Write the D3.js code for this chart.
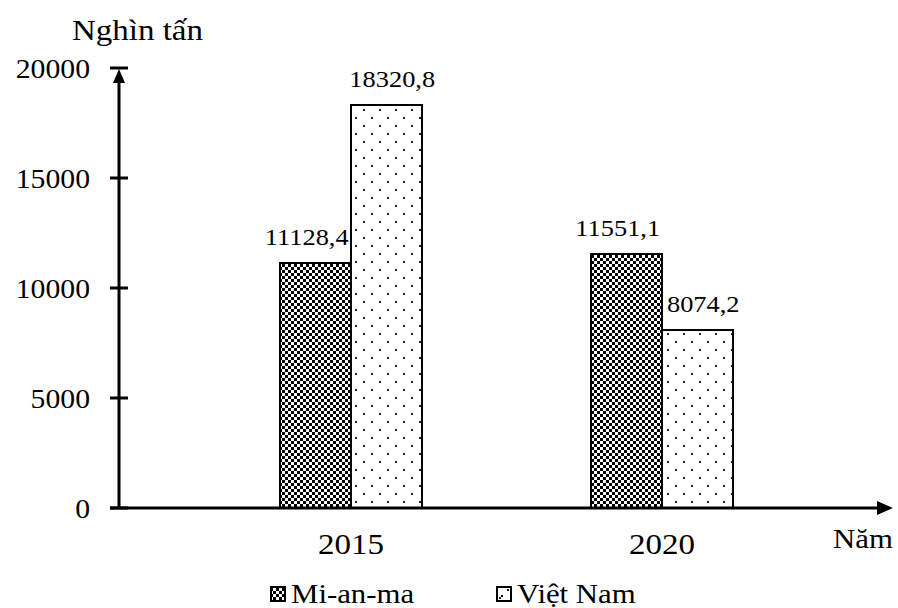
<!DOCTYPE html>
<html>
<head>
<meta charset="utf-8">
<script src="https://cdn.jsdelivr.net/npm/d3@7"></script>
<style>
  html, body { margin: 0; padding: 0; background: #fff; }
</style>
</head>
<body>
<svg id="chart" width="898" height="608"></svg>
<script>
// Sản lượng lúa (nghìn tấn)
const years = ["2015", "2020"];
const seriesNames = ["Mi-an-ma", "Việt Nam"];
const myanmarValues = [11128.4, 11551.1];
const vietnamValues = [18320.8, 8074.2];
const yTicks = [0, 5000, 10000, 15000, 20000];
const yUnit = "Nghìn tấn";
const xUnit = "Năm";

const svg = d3.select("#chart");
const markLayer = svg.append("g");
const textLayer = svg.append("g");

const y = d3.scaleLinear().domain([0, 20000]).range([508, 68]);
const x = d3.scaleBand().domain(years).range([125, 888]).paddingInner(0.5466).paddingOuter(0.5);
const xs = d3.scaleBand().domain(d3.range(seriesNames.length)).range([0, x.bandwidth()]);

const axisX = 119;
const sx = 1.1; // text is set slightly wide

function label(tx, ty, str, size, anchor) {
  return textLayer.append("text")
    .attr("transform", `translate(${tx},${ty}) scale(${sx},1)`)
    .attr("text-anchor", anchor || "start")
    .style("font-family", '"Liberation Serif"')
    .attr("font-size", size)
    .attr("fill", "#000")
    .text(str);
}

// hatch textures painted on a canvas, aligned to page coordinates
function texture(kind, x0, y0, w, h) {
  const c = document.createElement("canvas");
  c.width = Math.max(1, Math.round(w));
  c.height = Math.max(1, Math.round(h));
  const ctx = c.getContext("2d");
  ctx.fillStyle = "#fff";
  ctx.fillRect(0, 0, c.width, c.height);
  if (kind === 0) {
    ctx.fillStyle = "#000";
    const gx0 = Math.floor(x0 / 3) * 3, gy0 = Math.floor(y0 / 3) * 3;
    for (let gy = gy0; gy < y0 + h; gy += 3) {
      for (let gx = gx0; gx < x0 + w; gx += 3) {
        if (((gx / 3) + (gy / 3)) % 2 === 0) ctx.fillRect(gx - x0, gy - y0, 3, 3);
      }
    }
  } else {
    ctx.fillStyle = "#222";
    const gx0 = Math.floor(x0 / 16) * 16, gy0 = Math.floor(y0 / 16) * 16;
    for (let gy = gy0; gy < y0 + h; gy += 16) {
      for (let gx = gx0; gx < x0 + w; gx += 16) {
        ctx.fillRect(gx + 3 - x0, gy + 5 - y0, 2, 2);
        ctx.fillRect(gx + 11 - x0, gy + 13 - y0, 2, 2);
      }
    }
  }
  return c.toDataURL();
}

const data = years.map((yr, i) => ({ year: yr, values: [myanmarValues[i], vietnamValues[i]] }));
const bars = data.flatMap(d => d.values.map((v, i) => ({ year: d.year, series: i, value: v })));

function barBox(b) {
  const bx = Math.round(x(b.year) + xs(b.series));
  const by = Math.round(y(b.value));
  const bw = Math.round(xs.bandwidth());
  const bh = Math.round(y(0)) - by;
  return { bx, by, bw, bh };
}

// bar fills
markLayer.append("g").selectAll("image").data(bars).join("image")
  .attr("x", b => barBox(b).bx)
  .attr("y", b => barBox(b).by)
  .attr("width", b => barBox(b).bw)
  .attr("height", b => barBox(b).bh)
  .attr("preserveAspectRatio", "none")
  .attr("href", b => { const r = barBox(b); return texture(b.series, r.bx, r.by, r.bw, r.bh); });

// bar outlines
markLayer.append("g").selectAll("rect").data(bars).join("rect")
  .attr("x", b => barBox(b).bx)
  .attr("y", b => barBox(b).by)
  .attr("width", b => barBox(b).bw)
  .attr("height", b => barBox(b).bh)
  .attr("fill", "none")
  .attr("stroke", "#000")
  .attr("stroke-width", 2);

// y axis with arrow and tick marks from the scale
markLayer.append("line").attr("x1", axisX).attr("x2", axisX)
  .attr("y1", y(0) + 1).attr("y2", 80).attr("stroke", "#000").attr("stroke-width", 3);
markLayer.append("path")
  .attr("d", `M${axisX},${y(20000) + 1} L${axisX - 6},${y(20000) + 15} L${axisX + 6},${y(20000) + 15} Z`)
  .attr("fill", "#000");
markLayer.append("g").selectAll("line").data(yTicks).join("line")
  .attr("x1", axisX - 9).attr("x2", axisX + 9)
  .attr("y1", d => y(d)).attr("y2", d => y(d))
  .attr("stroke", "#000").attr("stroke-width", 3);

// x axis with arrow
markLayer.append("line").attr("x1", axisX - 9).attr("x2", 880)
  .attr("y1", y(0)).attr("y2", y(0)).attr("stroke", "#000").attr("stroke-width", 3);
markLayer.append("path")
  .attr("d", `M893,${y(0)} L877,${y(0) - 7} L877,${y(0) + 7} Z`).attr("fill", "#000");

// legend swatches
const legendX = [270, 496];
seriesNames.forEach((name, i) => {
  const lx = legendX[i] + 1, ly = 587;
  markLayer.append("image").attr("x", lx).attr("y", ly).attr("width", 14).attr("height", 14)
    .attr("preserveAspectRatio", "none")
    .attr("href", i === 0 ? texture(0, lx, ly, 14, 14) : texture(2, lx, ly, 14, 14));
  markLayer.append("rect").attr("x", lx).attr("y", ly).attr("width", 14).attr("height", 14)
    .attr("fill", "none").attr("stroke", "#000").attr("stroke-width", 2);
  if (i === 1) {
    markLayer.append("rect").attr("x", lx + 4).attr("y", ly + 8).attr("width", 2).attr("height", 2).attr("fill", "#000");
  }
});

// texts
label(72, 40, yUnit, 30, "start");
label(833, 548, xUnit, 28, "start");
yTicks.forEach(t => label(90, y(t) + 10, String(t), 27, "end"));
years.forEach(yr => label(x(yr) + x.bandwidth() / 2, 554, yr, 30, "middle"));

const labelShift = [-9, 6];
bars.forEach(b => {
  const cx = x(b.year) + xs(b.series) + xs.bandwidth() / 2 + labelShift[b.series];
  label(cx, y(b.value) - 18, d3.format(".1f")(b.value).replace(".", ","), 24, "middle");
});

seriesNames.forEach((name, i) => label(legendX[i] + 21, 603, name, 28, "start"));
</script>
</body>
</html>
